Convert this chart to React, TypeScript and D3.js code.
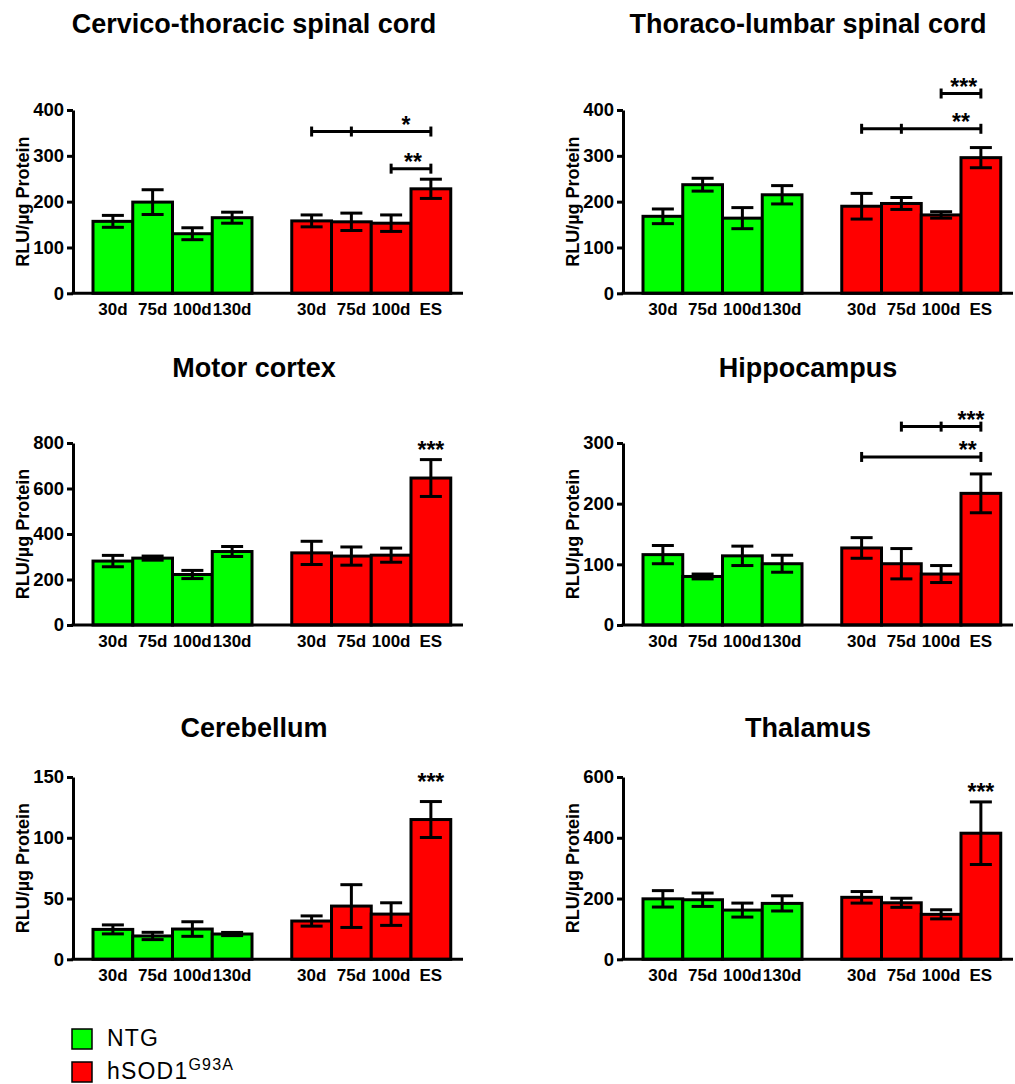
import React, { useEffect, useRef } from 'react';
import * as d3 from 'd3';

const ntgLabels = ['30d', '75d', '100d', '130d'];
const sodLabels = ['30d', '75d', '100d', 'ES'];

// Cervico-thoracic spinal cord
const cervicoNtg = [157, 199, 130, 165];
const cervicoNtgErr = [13, 27, 13, 12];
const cervicoSod = [158, 156, 153, 228];
const cervicoSodErr = [13, 19, 18, 21];
const cervicoBrackets = [
    {from: 4, to: 7, mids: [5], y: 353, label: '*', labelAt: 6.375},
    {from: 6, to: 7, mids: [], y: 272, label: '**', labelAt: 6.55}
];

// Thoraco-lumbar spinal cord
const lumbarNtg = [168, 237, 164, 215];
const lumbarNtgErr = [16, 14, 23, 20];
const lumbarSod = [190, 196, 171, 296];
const lumbarSodErr = [28, 13, 7, 22];
const lumbarBrackets = [
    {from: 6, to: 7, mids: [], y: 436, label: '***', labelAt: 6.57},
    {from: 4, to: 7, mids: [5], y: 359, label: '**', labelAt: 6.5}
];

// Motor cortex
const motorNtg = [281, 294, 222, 323];
const motorNtgErr = [25, 9, 18, 22];
const motorSod = [317, 303, 307, 646];
const motorSodErr = [51, 40, 31, 81];

// Hippocampus
const hippoNtg = [116, 80, 114, 101];
const hippoNtgErr = [15, 4, 16, 14];
const hippoSod = [127, 101, 84, 217];
const hippoSodErr = [17, 25, 14, 32];
const hippoBrackets = [
    {from: 5, to: 7, mids: [6], y: 327, label: '***', labelAt: 6.75},
    {from: 4, to: 7, mids: [], y: 277, label: '**', labelAt: 6.67}
];

// Cerebellum
const cerebNtg = [24.6, 19.2, 24.9, 20.8];
const cerebNtgErr = [3.7, 3, 6, 1.3];
const cerebSod = [31.5, 43.8, 37.2, 115];
const cerebSodErr = [4.2, 17.6, 9.3, 14.8];

// Thalamus
const thalNtg = [199, 196, 162, 184];
const thalNtgErr = [27, 22, 23, 25];
const thalSod = [204, 186, 148, 415];
const thalSodErr = [19, 15, 15, 103];

const panels = [
    {title: 'Cervico-thoracic spinal cord', ntg: cervicoNtg, ntgErr: cervicoNtgErr, sod: cervicoSod, sodErr: cervicoSodErr, yMax: 400, step: 100, brackets: cervicoBrackets, star: null},
    {title: 'Thoraco-lumbar spinal cord', ntg: lumbarNtg, ntgErr: lumbarNtgErr, sod: lumbarSod, sodErr: lumbarSodErr, yMax: 400, step: 100, brackets: lumbarBrackets, star: null},
    {title: 'Motor cortex', ntg: motorNtg, ntgErr: motorNtgErr, sod: motorSod, sodErr: motorSodErr, yMax: 800, step: 200, brackets: [], star: {at: 7, y: 785, label: '***'}},
    {title: 'Hippocampus', ntg: hippoNtg, ntgErr: hippoNtgErr, sod: hippoSod, sodErr: hippoSodErr, yMax: 300, step: 100, brackets: hippoBrackets, star: null},
    {title: 'Cerebellum', ntg: cerebNtg, ntgErr: cerebNtgErr, sod: cerebSod, sodErr: cerebSodErr, yMax: 150, step: 50, brackets: [], star: {at: 7, y: 149, label: '***'}},
    {title: 'Thalamus', ntg: thalNtg, ntgErr: thalNtgErr, sod: thalSod, sodErr: thalSodErr, yMax: 600, step: 200, brackets: [], star: {at: 7, y: 563, label: '***'}}
];

const GREEN = '#00FF00';
const RED = '#FF0000';
const FONT = '"Liberation Sans", Arial, Helvetica, sans-serif';

export default function App() {
    const svgRef = useRef<SVGSVGElement>(null);

    useEffect(() => {
        const svg = d3.select(svgRef.current);
        svg.selectAll('*').remove();

        const colX = [73, 623];
        const titleX = [254, 808];
        const rowTop = [110, 443, 777];
        const rowBottom = [293.3, 625, 959.3];
        const titleY = [33, 377, 737];

        panels.forEach((p, k) => {
            const col = k % 2;
            const row = Math.floor(k / 2);
            const ax = colX[col];
            const g = svg.append('g');

            const x = d3.scaleBand<number>()
                .domain(d3.range(9))
                .range([ax + 20, ax + 20 + 9 * 39.75])
                .padding(0);
            const bw = x.bandwidth();
            const slot = (i: number) => (i < 4 ? i : i + 1);
            const cx = (i: number) => (x(slot(i)) as number) + bw / 2;
            const cxFrac = (f: number) => cx(Math.floor(f)) + (f - Math.floor(f)) * bw;

            const y = d3.scaleLinear()
                .domain([0, p.yMax])
                .range([rowBottom[row], rowTop[row]]);

            const values = [...p.ntg, ...p.sod];
            const errs = [...p.ntgErr, ...p.sodErr];
            const labels = [...ntgLabels, ...sodLabels];

            // title
            g.append('text')
                .attr('x', titleX[col])
                .attr('y', titleY[row])
                .attr('text-anchor', 'middle')
                .attr('font-family', FONT)
                .attr('font-weight', 'bold')
                .attr('font-size', '27px')
                .attr('fill', '#000')
                .text(p.title);

            // bars
            g.selectAll('.bar')
                .data(values)
                .enter()
                .append('rect')
                .attr('x', (d, i) => x(slot(i)) as number)
                .attr('y', d => y(d))
                .attr('width', bw)
                .attr('height', d => y(0) - y(d))
                .attr('fill', (d, i) => (i < 4 ? GREEN : RED))
                .attr('stroke', '#000')
                .attr('stroke-width', 3);

            // error bars
            const eb = g.selectAll('.err')
                .data(values)
                .enter()
                .append('g');
            eb.append('line')
                .attr('x1', (d, i) => cx(i))
                .attr('x2', (d, i) => cx(i))
                .attr('y1', (d, i) => y(d - errs[i]))
                .attr('y2', (d, i) => y(d + errs[i]))
                .attr('stroke', '#000')
                .attr('stroke-width', 3);
            [1, -1].forEach(sgn => {
                eb.append('line')
                    .attr('x1', (d, i) => cx(i) - 11)
                    .attr('x2', (d, i) => cx(i) + 11)
                    .attr('y1', (d, i) => y(d + sgn * errs[i]))
                    .attr('y2', (d, i) => y(d + sgn * errs[i]))
                    .attr('stroke', '#000')
                    .attr('stroke-width', 3);
            });

            // y axis
            const yAxis = g.append('g')
                .attr('transform', `translate(${ax},0)`)
                .call(d3.axisLeft(y).tickValues(d3.range(0, p.yMax + 1, p.step)).tickSize(6).tickPadding(3).tickSizeOuter(0));
            yAxis.select('.domain').attr('stroke-width', 3).attr('stroke', '#000');
            yAxis.selectAll('.tick line').attr('stroke-width', 3).attr('stroke', '#000');
            yAxis.selectAll('.tick text')
                .attr('font-family', FONT)
                .attr('font-weight', 'bold')
                .attr('font-size', '18.5px')
                .attr('fill', '#000');

            // x axis line
            g.append('line')
                .attr('x1', ax - 1.5)
                .attr('x2', ax + 390)
                .attr('y1', y(0))
                .attr('y2', y(0))
                .attr('stroke', '#000')
                .attr('stroke-width', 3);

            // x labels
            g.selectAll('.xl')
                .data(labels)
                .enter()
                .append('text')
                .attr('x', (d, i) => cx(i))
                .attr('y', y(0) + 22)
                .attr('text-anchor', 'middle')
                .attr('font-family', FONT)
                .attr('font-weight', 'bold')
                .attr('font-size', '17px')
                .attr('fill', '#000')
                .text(d => d);

            // y label
            g.append('text')
                .attr('transform', `translate(${ax - 44},${(y(0) + y(p.yMax)) / 2}) rotate(-90)`)
                .attr('text-anchor', 'middle')
                .attr('font-family', FONT)
                .attr('font-weight', 'bold')
                .attr('font-size', '18px')
                .attr('fill', '#000')
                .text('RLU/\u00B5g Protein');

            // significance brackets
            p.brackets.forEach(b => {
                const by = y(b.y);
                g.append('line')
                    .attr('x1', cx(b.from)).attr('x2', cx(b.to))
                    .attr('y1', by).attr('y2', by)
                    .attr('stroke', '#000').attr('stroke-width', 3);
                [b.from, ...b.mids, b.to].forEach(i => {
                    g.append('line')
                        .attr('x1', cx(i)).attr('x2', cx(i))
                        .attr('y1', by - 5).attr('y2', by + 5)
                        .attr('stroke', '#000').attr('stroke-width', 3);
                });
                g.append('text')
                    .attr('x', cxFrac(b.labelAt))
                    .attr('y', by + 1)
                    .attr('text-anchor', 'middle')
                    .attr('font-family', FONT)
                    .attr('font-weight', 'bold')
                    .attr('font-size', '23px')
                    .attr('fill', '#000')
                    .text(b.label);
            });

            if (p.star) {
                g.append('text')
                    .attr('x', cx(p.star.at))
                    .attr('y', y(p.star.y) + 12)
                    .attr('text-anchor', 'middle')
                    .attr('font-family', FONT)
                    .attr('font-weight', 'bold')
                    .attr('font-size', '23px')
                    .attr('fill', '#000')
                    .text(p.star.label);
            }
        });

        // legend
        const legend = svg.append('g');
        const items = [
            {color: GREEN, y: 1029, label: 'NTG', sup: ''},
            {color: RED, y: 1062, label: 'hSOD1', sup: 'G93A'}
        ];
        items.forEach(it => {
            legend.append('rect')
                .attr('x', 72).attr('y', it.y)
                .attr('width', 20).attr('height', 20)
                .attr('fill', it.color)
                .attr('stroke', '#000')
                .attr('stroke-width', 1.5);
            const t = legend.append('text')
                .attr('x', 107)
                .attr('y', it.y + 17)
                .attr('font-family', FONT)
                .attr('font-size', '23px')
                .attr('letter-spacing', '1.2px')
                .attr('fill', '#000')
                .text(it.label);
            if (it.sup) {
                t.append('tspan')
                    .attr('font-size', '16px')
                    .attr('dy', -9)
                    .text(it.sup);
            }
        });
    }, []);

    return (
        <svg ref={svgRef} width={1015} height={1084}
             style={{position: 'absolute', left: 0, top: 0, background: '#fff'}}/>
    );
}
